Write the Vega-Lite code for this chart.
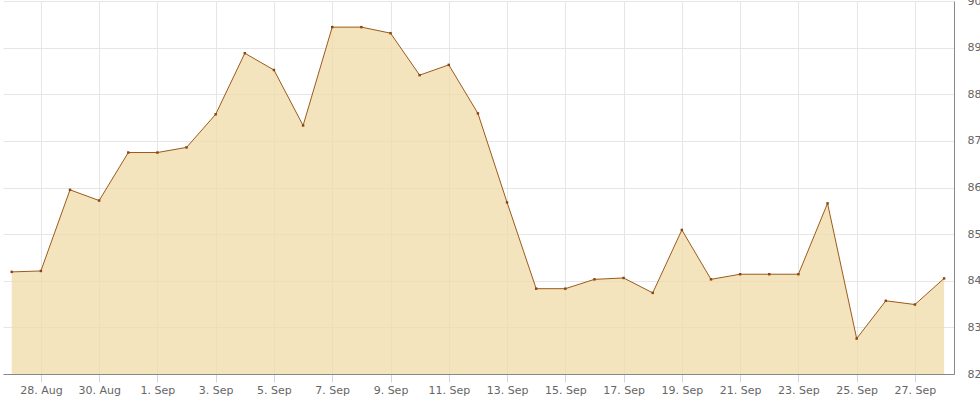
{
  "$schema": "https://vega.github.io/schema/vega-lite/v6.json",
  "autosize": {"type": "none"},
  "width": 951,
  "height": 373,
  "padding": {"left": 3, "top": 1, "right": 26, "bottom": 27},
  "background": "white",
  "config": {
    "view": {"stroke": null},
    "font": "DejaVu Sans",
    "axis": {"labelFont": "DejaVu Sans", "labelFontSize": 11, "labelColor": "#666666"}
  },
  "data": {
    "values": [
      {"date": "2023-08-27", "value": 84.19},
      {"date": "2023-08-28", "value": 84.21},
      {"date": "2023-08-29", "value": 85.95},
      {"date": "2023-08-30", "value": 85.72},
      {"date": "2023-08-31", "value": 86.75},
      {"date": "2023-09-01", "value": 86.75},
      {"date": "2023-09-02", "value": 86.86},
      {"date": "2023-09-03", "value": 87.57},
      {"date": "2023-09-04", "value": 88.88},
      {"date": "2023-09-05", "value": 88.52},
      {"date": "2023-09-06", "value": 87.33},
      {"date": "2023-09-07", "value": 89.44},
      {"date": "2023-09-08", "value": 89.44},
      {"date": "2023-09-09", "value": 89.31},
      {"date": "2023-09-10", "value": 88.41},
      {"date": "2023-09-11", "value": 88.63},
      {"date": "2023-09-12", "value": 87.59},
      {"date": "2023-09-13", "value": 85.68},
      {"date": "2023-09-14", "value": 83.83},
      {"date": "2023-09-15", "value": 83.83},
      {"date": "2023-09-16", "value": 84.03},
      {"date": "2023-09-17", "value": 84.06},
      {"date": "2023-09-18", "value": 83.74},
      {"date": "2023-09-19", "value": 85.09},
      {"date": "2023-09-20", "value": 84.03},
      {"date": "2023-09-21", "value": 84.14},
      {"date": "2023-09-22", "value": 84.14},
      {"date": "2023-09-23", "value": 84.14},
      {"date": "2023-09-24", "value": 85.66},
      {"date": "2023-09-25", "value": 82.76},
      {"date": "2023-09-26", "value": 83.57},
      {"date": "2023-09-27", "value": 83.49},
      {"date": "2023-09-28", "value": 84.05}
    ]
  },
  "encoding": {
    "x": {
      "field": "date",
      "type": "temporal",
      "scale": {
        "type": "utc",
        "domain": [
          {"year": 2023, "month": 8, "date": 26, "hours": 16, "minutes": 48, "utc": true},
          {"year": 2023, "month": 9, "date": 28, "hours": 8, "minutes": 10, "utc": true}
        ]
      },
      "axis": {
        "title": null,
        "format": "%-d. %b",
        "values": [
          {"year": 2023, "month": 8, "date": 28, "utc": true},
          {"year": 2023, "month": 8, "date": 30, "utc": true},
          {"year": 2023, "month": 9, "date": 1, "utc": true},
          {"year": 2023, "month": 9, "date": 3, "utc": true},
          {"year": 2023, "month": 9, "date": 5, "utc": true},
          {"year": 2023, "month": 9, "date": 7, "utc": true},
          {"year": 2023, "month": 9, "date": 9, "utc": true},
          {"year": 2023, "month": 9, "date": 11, "utc": true},
          {"year": 2023, "month": 9, "date": 13, "utc": true},
          {"year": 2023, "month": 9, "date": 15, "utc": true},
          {"year": 2023, "month": 9, "date": 17, "utc": true},
          {"year": 2023, "month": 9, "date": 19, "utc": true},
          {"year": 2023, "month": 9, "date": 21, "utc": true},
          {"year": 2023, "month": 9, "date": 23, "utc": true},
          {"year": 2023, "month": 9, "date": 25, "utc": true},
          {"year": 2023, "month": 9, "date": 27, "utc": true}
        ],
        "grid": true,
        "gridColor": "#e6e6e6",
        "gridWidth": 1,
        "domainColor": "#888888",
        "domainWidth": 1,
        "tickColor": "#ccd6eb",
        "tickSize": 8,
        "labelPadding": 2,
        "labelFlush": false,
        "labelOverlap": false
      }
    },
    "y": {
      "field": "value",
      "type": "quantitative",
      "scale": {"domain": [82, 90], "nice": false, "zero": false},
      "axis": {
        "title": null,
        "orient": "right",
        "values": [82, 83, 84, 85, 86, 87, 88, 89, 90],
        "grid": true,
        "gridColor": "#e6e6e6",
        "gridWidth": 1,
        "ticks": false,
        "tickSize": 0,
        "labelPadding": 13,
        "domainColor": "#888888",
        "domainWidth": 1,
        "labelAlign": "left",
        "labelFlush": false
      }
    }
  },
  "layer": [
    {"mark": {"type": "area", "color": "#efdba7", "opacity": 0.75, "line": false, "clip": true}},
    {"mark": {"type": "line", "color": "#9c5a1c", "strokeWidth": 1}},
    {"mark": {"type": "point", "filled": true, "shape": "square", "color": "#8b4513", "size": 6, "opacity": 1}}
  ]
}
